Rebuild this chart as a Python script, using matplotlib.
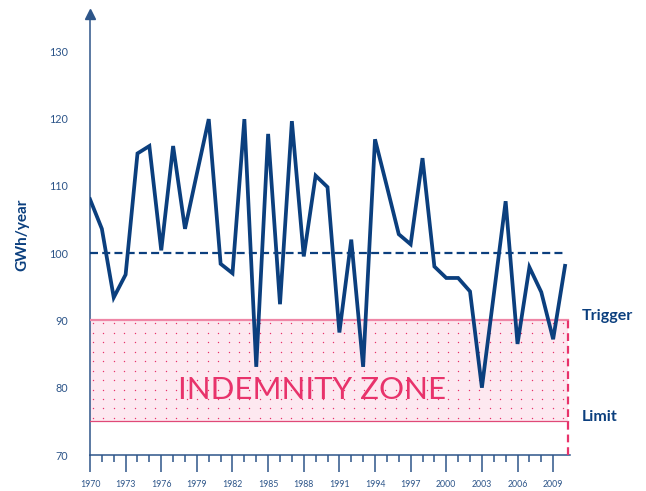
import numpy as np
import matplotlib
matplotlib.use("Agg")
import matplotlib.pyplot as plt
from matplotlib.ticker import FixedLocator, NullLocator

plt.rcParams['font.family'] = ['Lato', 'DejaVu Sans']

years = np.arange(1970, 2011)
values = [108.0, 103.6, 93.4, 96.8, 114.8, 115.9, 100.4, 115.9, 103.6, 111.8,
          119.9, 98.4, 97.0, 119.9, 83.1, 117.7, 92.4, 119.6, 99.5, 111.5,
          109.8, 88.2, 102.0, 83.1, 116.9, 109.9, 102.8, 101.3, 114.1, 98.0,
          96.3, 96.3, 94.3, 80.0, 93.8, 107.7, 86.5, 97.9, 94.2, 87.2,
          98.1]
mean_level = 100
trigger = 90
limit = 75
major_years = list(range(1970, 2010, 3))
y_ticks = [70, 80, 90, 100, 110, 120, 130]

navy = '#0b3f7e'
axis_col = '#2d5589'
pink = '#e8336b'

fig = plt.figure(figsize=(6.46, 4.91), dpi=100)
ax = fig.add_axes([0.1393, 0.0733, 0.7427, 0.898])
ax.set_xlim(1970, 2010.4)
ax.set_ylim(70, 135.5)

zone_end = 2010.25

# indemnity zone
ax.fill_between([1970, zone_end], limit, trigger, color='#fde8f0', lw=0, zorder=1)
dx = np.arange(1970.23, zone_end - 0.2, 0.88)
dy = np.arange(trigger - 0.4, limit, -1.41)
gx, gy = np.meshgrid(dx, dy)
ax.scatter(gx.ravel(), gy.ravel(), s=1.0, color=pink, lw=0, zorder=2)
ax.plot([1970, zone_end], [trigger, trigger], color='#ef86a6', lw=1.6, zorder=3)
ax.plot([1970, zone_end], [limit, limit], color='#e04a78', lw=0.9, zorder=3)
ax.plot([zone_end, zone_end], [70, trigger], color=pink, lw=1.6,
        linestyle=(0, (3.5, 2.2)), zorder=3, clip_on=False)

# mean level
ax.plot([1970, years[-1]], [mean_level, mean_level], color=navy, lw=1.6,
        linestyle=(0, (3.6, 1.9)), zorder=4)

# annual series
ax.plot(years, values, color=navy, lw=2.7, solid_joinstyle='miter', zorder=5)

ax.text(1988.7, 79.6, 'INDEMNITY ZONE', color=pink, fontsize=22.5,
        ha='center', va='center', zorder=6)
ax.text(2011.4, trigger, 'Trigger', color=navy, fontsize=11.5, fontweight='bold',
        ha='left', va='baseline')
ax.text(2011.4, limit, 'Limit', color=navy, fontsize=11.5, fontweight='bold',
        ha='left', va='baseline')

# axes styling
for s in ['top', 'right']:
    ax.spines[s].set_visible(False)
for s in ['left', 'bottom']:
    ax.spines[s].set_color(axis_col)
    ax.spines[s].set_linewidth(1.1)
ax.plot(0, 1, marker='^', markersize=7, color=axis_col, transform=ax.transAxes,
        clip_on=False)

ax.xaxis.set_major_locator(FixedLocator(major_years))
ax.xaxis.set_minor_locator(FixedLocator([y for y in years[:-1] if (y - 1970) % 3]))
ax.set_xticklabels([str(y) for y in major_years])
ax.tick_params(axis='x', which='major', length=12, width=1.1, color=axis_col,
               labelsize=6.3, labelcolor=axis_col, pad=6)
ax.tick_params(axis='x', which='minor', length=5, width=1.1, color=axis_col)

ax.set_yticks(y_ticks)
ax.yaxis.set_minor_locator(NullLocator())
ax.tick_params(axis='y', length=0, labelsize=7.8, labelcolor=axis_col, pad=16)

ax.set_ylabel('GWh/year', color=navy, fontsize=11, fontweight='bold', labelpad=14)

fig.savefig('out.png', dpi=100)
